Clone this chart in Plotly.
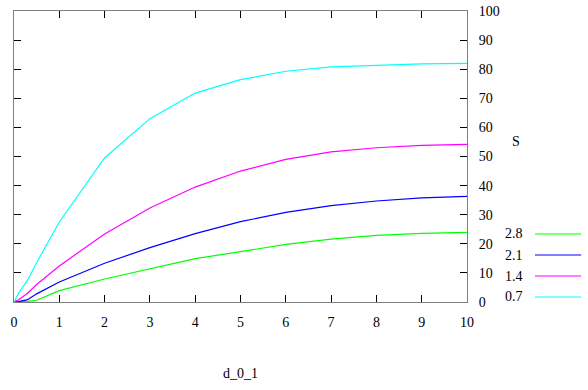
import plotly.graph_objects as go

x_vals = [0, 0.1, 0.3, 0.5, 1, 2, 3, 4, 5, 6, 7, 8, 9, 10]
s_0_7 = [0, 3.0, 7.5, 13.5, 27.5, 49.5, 63.0, 71.8, 76.4, 79.3, 80.8, 81.4, 81.8, 82.0]
s_1_4 = [0, 0.8, 3.0, 6.0, 12.4, 23.4, 32.3, 39.5, 45.0, 49.0, 51.6, 53.0, 53.8, 54.2]
s_2_1 = [0, 0.1, 0.8, 2.8, 6.9, 13.3, 18.7, 23.5, 27.6, 30.8, 33.1, 34.7, 35.8, 36.3]
s_2_8 = [0, 0.0, 0.2, 0.6, 3.9, 7.9, 11.5, 14.9, 17.3, 19.8, 21.6, 22.9, 23.6, 23.9]

series_names = ["2.8", "2.1", "1.4", "0.7"]
series_values = [s_2_8, s_2_1, s_1_4, s_0_7]
series_colors = ["#00ff00", "#0000ff", "#ff00ff", "#00ffff"]

x_ticks = list(range(0, 11))
y_ticks = list(range(0, 101, 10))

FONT = "Liberation Serif"
FS = 14

fig = go.Figure()
for name, vals, col in zip(series_names, series_values, series_colors):
    fig.add_trace(go.Scatter(x=x_vals, y=vals, mode="lines", name=name,
                             line=dict(color=col, width=1.2), showlegend=False))

# manual gnuplot-style legend (text left of line sample)
leg_y = [0.2337, 0.1615, 0.0893, 0.0172]
for name, col, yy in zip(series_names, series_colors, leg_y):
    fig.add_annotation(x=1.128, y=yy, xref="paper", yref="paper", text=name,
                       showarrow=False, xanchor="right", yanchor="middle",
                       font=dict(family=FONT, size=FS, color="black"))
    fig.add_shape(type="line", xref="paper", yref="paper", x0=1.150, x1=1.252,
                  y0=yy, y1=yy, line=dict(color=col, width=1.2))

fig.add_annotation(x=1.1075, y=0.551, xref="paper", yref="paper", text="S",
                   showarrow=False, xanchor="center", yanchor="middle",
                   font=dict(family=FONT, size=FS, color="black"))
fig.add_annotation(x=0.5, y=-0.244, xref="paper", yref="paper", text="d_0_1",
                   showarrow=False, xanchor="center", yanchor="middle",
                   font=dict(family=FONT, size=FS, color="black"))

fig.update_xaxes(range=[0, 10], tickvals=x_ticks, ticktext=[str(t) for t in x_ticks],
                 showgrid=False, zeroline=False, showline=True, linecolor="#808080",
                 linewidth=1, mirror="ticks", ticks="inside", ticklen=7, tickcolor="black",
                 tickwidth=1, ticklabelstandoff=7, automargin=False,
                 tickfont=dict(family=FONT, size=FS, color="black"))
fig.update_yaxes(range=[0, 100], tickvals=y_ticks, ticktext=[str(t) for t in y_ticks],
                 side="right", showgrid=False, zeroline=False, showline=True,
                 linecolor="#808080", linewidth=1, mirror="ticks", ticks="inside",
                 ticklen=7, tickcolor="black", tickwidth=1, ticklabelstandoff=8,
                 automargin=False,
                 tickfont=dict(family=FONT, size=FS, color="black"))

fig.update_layout(width=588, height=390, margin=dict(l=14, r=121, t=11, b=88),
                  plot_bgcolor="white", paper_bgcolor="white", showlegend=False)

fig.write_html("out.html", config={"displayModeBar": False},
               post_script="document.body.style.margin='0';document.body.style.overflow='hidden';")
